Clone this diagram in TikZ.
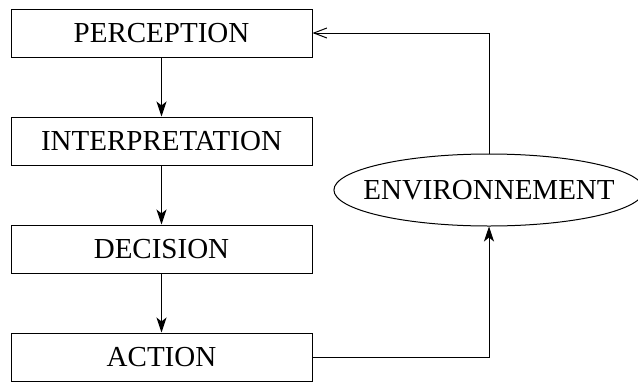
\documentclass[tikz,border=0pt]{standalone}
\usepackage{fontspec}
\setmainfont{Liberation Serif}
\usetikzlibrary{arrows.meta,shapes.geometric}
\tikzset{
  bx/.style={rectangle,draw=black,fill=white,minimum width=150.5pt,minimum height=24pt,inner sep=0pt,line width=.5pt,font=\fontsize{14.5}{17}\selectfont},
  env/.style={ellipse,draw=black,fill=white,minimum height=36pt,inner xsep=-8pt,inner ysep=0pt,line width=.5pt,font=\fontsize{14.5}{17}\selectfont},
  flw/.style={-{Stealth[length=7.5pt,width=5pt,inset=2pt]},line width=.5pt,draw=black},
  fbk/.style={-{Straight Barb[length=6.5pt,width=5pt]},line width=.5pt,draw=black},
}
\begin{document}
\begin{tikzpicture}[x=0.5pt,y=-0.5pt]
  \useasboundingbox (0,0) rectangle (638,381);
  \node[bx] (per) at (161.5,33) {PERCEPTION};
  \node[bx] (int) at (161.5,141) {INTERPRETATION};
  \node[bx] (dec) at (161.5,249) {DECISION};
  \node[bx] (act) at (161.5,357) {ACTION};
  \node[env] (en) at (489,190) {ENVIRONNEMENT};
  \draw[flw] (per) -- (int);
  \draw[flw] (int) -- (dec);
  \draw[flw] (dec) -- (act);
  % back round through the environment
  \draw[flw] (act) -| (en);
  \draw[fbk] (en) |- (per);
\end{tikzpicture}
\end{document}
